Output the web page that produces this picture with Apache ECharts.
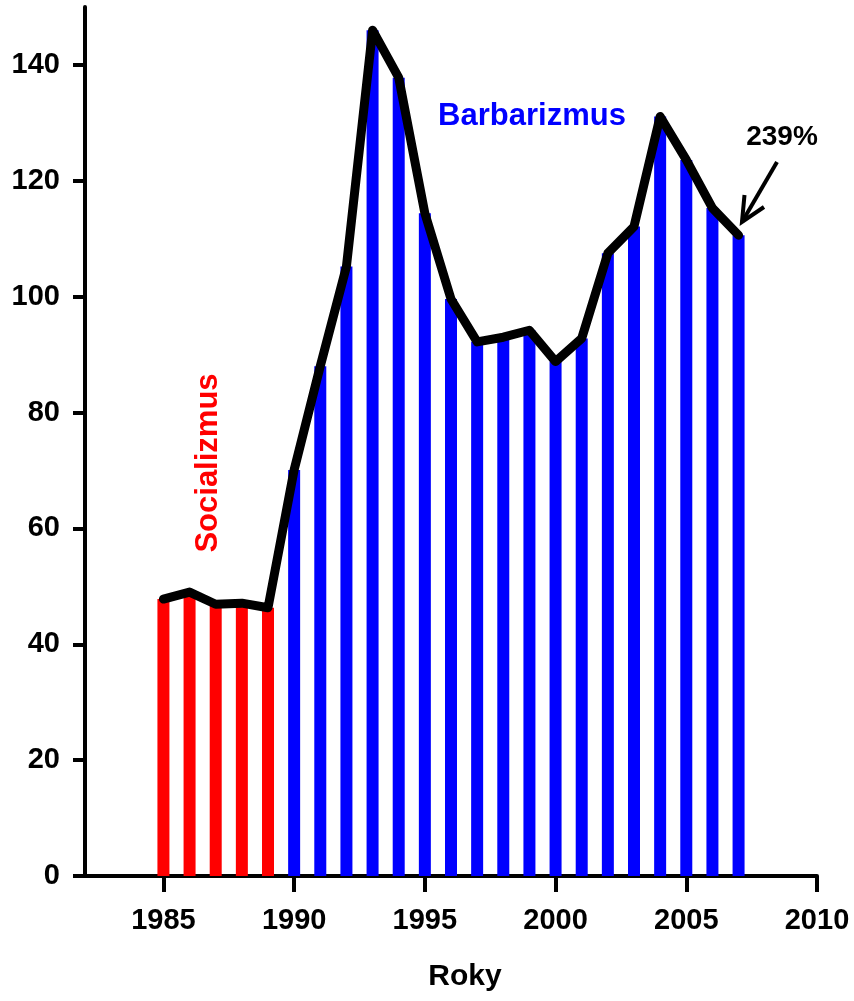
<!DOCTYPE html>
<html>
<head>
<meta charset="utf-8">
<script src="https://cdn.jsdelivr.net/npm/echarts@6/dist/echarts.min.js"></script>
<style>
html,body{margin:0;padding:0;background:#fff;}
#c{width:854px;height:1001px;}
</style>
</head>
<body>
<div id="c"></div>
<script>
const years = [1985,1986,1987,1988,1989,1990,1991,1992,1993,1994,1995,1996,1997,1998,1999,2000,2001,2002,2003,2004,2005,2006,2007];
const values = [47.8,49.0,46.9,47.1,46.3,70.1,88.0,105.2,146.0,137.8,114.4,99.6,92.2,93.0,94.2,88.8,92.8,107.5,112.1,131.1,123.6,115.3,110.6];
const socialismEnd = 1989;
const xTicks = [1985,1990,1995,2000,2005,2010];
const yTicks = [0,20,40,60,80,100,120,140];

const RED = '#ff0000', BLUE = '#0000ff';
const FONT = '"Liberation Sans", Arial, sans-serif';

const barData = years.map((y,i)=>({value:[y, values[i]], itemStyle:{color: y<=socialismEnd ? RED : BLUE}}));
const lineData = years.map((y,i)=>[y, values[i]]);

const chart = echarts.init(document.getElementById('c'), null, {renderer:'canvas'});
chart.setOption({
  animation:false,
  backgroundColor:'#fff',
  grid:{left:85, right:37, top:7, bottom:125},
  xAxis:{
    type:'value', min:1982, max:2010,
    splitLine:{show:false},
    axisLine:{show:true, onZero:false, lineStyle:{color:'#000', width:4}},
    axisTick:{show:true, customValues:xTicks, length:16, lineStyle:{color:'#000', width:4}},
    axisLabel:{customValues:xTicks, formatter:v=>String(v), margin:30, color:'#000', fontFamily:FONT, fontWeight:'bold', fontSize:29},
    name:'Roky', nameLocation:'middle', nameGap:86,
    nameTextStyle:{color:'#000', fontFamily:FONT, fontWeight:'bold', fontSize:30, padding:[0,0,0,28]}
  },
  yAxis:{
    type:'value', min:0, max:150,
    splitLine:{show:false},
    axisLine:{show:true, lineStyle:{color:'#000', width:4}},
    axisTick:{show:true, customValues:yTicks, length:12, lineStyle:{color:'#000', width:4}},
    axisLabel:{customValues:yTicks, formatter:v=>String(v), margin:25, color:'#000', fontFamily:FONT, fontWeight:'bold', fontSize:29}
  },
  series:[
    {type:'bar', data:barData, barWidth:12, z:2},
    {type:'line', data:lineData, symbol:'none', z:3,
     lineStyle:{color:'#000', width:9, join:'round', cap:'round'}}
  ],
  graphic:[
    {type:'text', x:208, y:463, rotation:Math.PI/2,
     style:{text:'Socializmus', fill:RED, font:'bold 31px '+FONT, align:'center', verticalAlign:'middle'}},
    {type:'text', x:532, y:116,
     style:{text:'Barbarizmus', fill:BLUE, font:'bold 31px '+FONT, align:'center', verticalAlign:'middle'}},
    {type:'text', x:782, y:137,
     style:{text:'239%', fill:'#000', font:'bold 28px '+FONT, align:'center', verticalAlign:'middle'}},
    {type:'line', shape:{x1:777, y1:162, x2:742, y2:222}, style:{stroke:'#000', lineWidth:4}},
    {type:'polyline', shape:{points:[[744.5,195],[742,222],[764,207]]}, style:{stroke:'#000', lineWidth:4, fill:null}}
  ]
});
</script>
</body>
</html>
